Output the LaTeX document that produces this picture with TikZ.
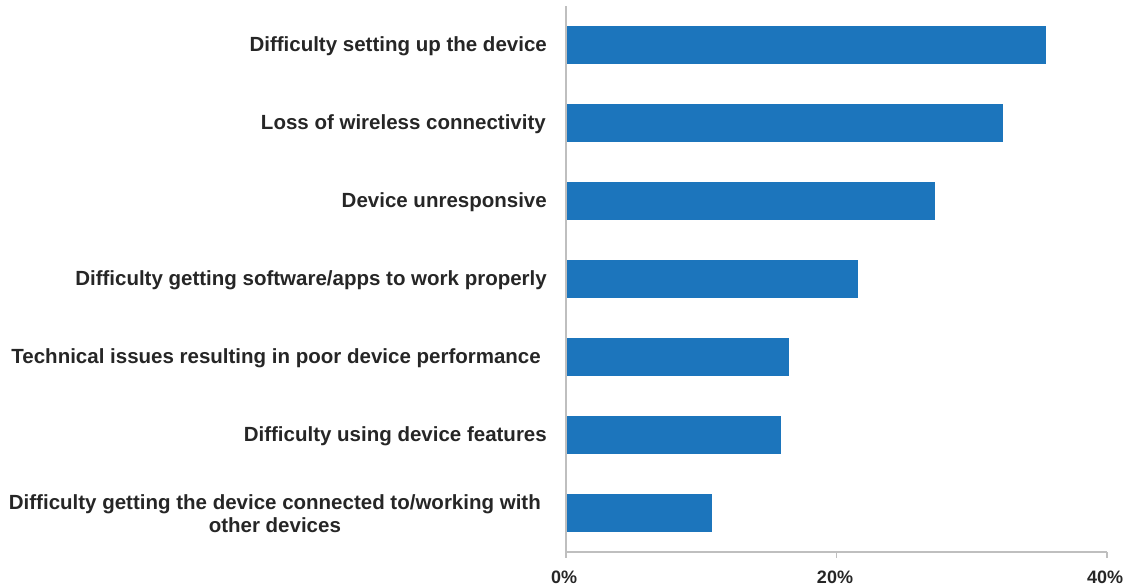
\documentclass[tikz,border=0pt]{standalone}
\usepackage{fontspec}
\setmainfont{Liberation Sans}
\definecolor{barblue}{HTML}{1C75BC}
\definecolor{axisgray}{HTML}{BFBFBF}
\definecolor{txt}{HTML}{262626}
\begin{document}
\begin{tikzpicture}[x=1pt,y=-1pt,
  bar/.style={fill=barblue,draw=none},
  lab/.style={anchor=east,font=\bfseries\fontsize{20.5}{23}\selectfont,text=txt,inner sep=0pt},
  ticklab/.style={font=\bfseries\fontsize{18}{20}\selectfont,text=txt,inner sep=0pt},
  axis/.style={draw=axisgray,line width=1.2pt}]
\useasboundingbox (0,0) rectangle (1126,587);
% bars
\foreach \i/\v in {0/35.5,1/32.3,2/27.3,3/21.6,4/16.5,5/15.9,6/10.8}{
  \fill[barblue] (566,26+78*\i) rectangle (566+13.525*\v,64+78*\i);
}
% axes
\coordinate (top) at (566,6);
\coordinate (orig) at (566,552);
\coordinate (xend) at (1107,552);
\draw[axis] (top) -- (566,558);
\draw[axis] (orig) -- (xend);
\draw[axis] (836.5,552) -- (836.5,558);
\draw[axis] (xend) -- (1107,558);
\node[ticklab] (t0) at (564,577) {0\%};
\node[ticklab] (t20) at (835,577) {20\%};
\node[ticklab] (t40) at (1105,577) {40\%};
% labels
\node[lab] (l1) at (547,46.5) {Difficulty setting up the device};
\node[lab] (l2) at (546,124.5) {Loss of wireless connectivity};
\node[lab] (l3) at (547,202.5) {Device unresponsive};
\node[lab] (l4) at (547,280.5) {Difficulty getting software/apps to work properly};
\node[lab] (l5) at (541,358.5) {Technical issues resulting in poor device performance};
\node[lab] (l6) at (547,436.5) {Difficulty using device features};
\node[lab,align=center] (l7) at (541,514) {Difficulty getting the device connected to/working with\\other devices};
\end{tikzpicture}
\end{document}
